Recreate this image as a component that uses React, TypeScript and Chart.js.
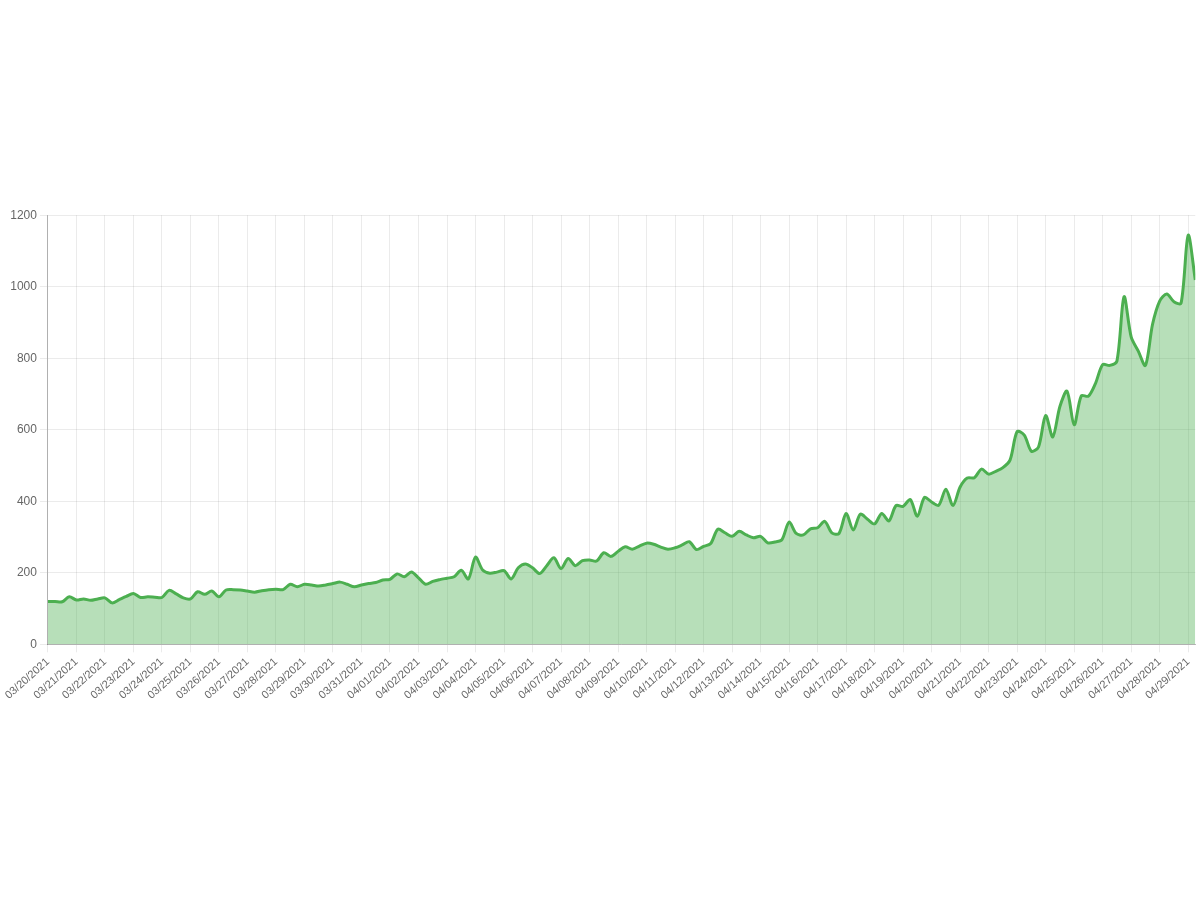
import React, { useEffect, useRef } from "react";
import { Chart, registerables } from "chart.js";

Chart.register(...registerables);

// Tick labels (one per day)
const dateLabels: string[] = [
  "03/20/2021", "03/21/2021", "03/22/2021", "03/23/2021", "03/24/2021", "03/25/2021",
  "03/26/2021", "03/27/2021", "03/28/2021", "03/29/2021", "03/30/2021", "03/31/2021",
  "04/01/2021", "04/02/2021", "04/03/2021", "04/04/2021", "04/05/2021", "04/06/2021",
  "04/07/2021", "04/08/2021", "04/09/2021", "04/10/2021", "04/11/2021", "04/12/2021",
  "04/13/2021", "04/14/2021", "04/15/2021", "04/16/2021", "04/17/2021", "04/18/2021",
  "04/19/2021", "04/20/2021", "04/21/2021", "04/22/2021", "04/23/2021", "04/24/2021",
  "04/25/2021", "04/26/2021", "04/27/2021", "04/28/2021", "04/29/2021",
];

// Sampling interval of the series, in hours
const sampleHours = 6;

// Series values, one every 6 hours starting 03/20/2021
const values: number[] = [
  // 03/20 - 03/29
  120, 120, 119, 133, 124, 127, 123, 127, 130, 116,
  125, 134, 142, 131, 133, 132, 131, 151, 141, 130,
  127, 147, 140, 149, 133, 152, 153, 152, 149, 146,
  150, 153, 154, 153, 168, 161, 168, 166, 163, 166,
  // 03/30 - 04/08
  170, 174, 168, 161, 166, 170, 173, 180, 182, 197,
  189, 202, 186, 168, 176, 181, 185, 189, 207, 183,
  244, 208, 199, 202, 206, 183, 214, 225, 214, 198,
  220, 242, 212, 240, 220, 234, 236, 233, 256, 246,
  // 04/09 - 04/18
  260, 273, 266, 275, 283, 280, 272, 266, 270, 278,
  287, 265, 274, 282, 322, 312, 302, 316, 306, 298,
  302, 284, 286, 293, 342, 310, 306, 323, 326, 344,
  312, 310, 366, 320, 364, 350, 337, 366, 345, 388,
  // 04/19 - 04/29
  386, 405, 358, 411, 398, 389, 434, 388, 440, 465,
  466, 490, 476, 484, 494, 515, 595, 585, 540, 552,
  640, 580, 665, 708, 614, 695, 694, 730, 782, 780,
  792, 972, 860, 820, 780, 895, 960, 980, 958, 954,
  1144, 1019,
];

// Y axis range
const yMin = 0;
const yMax = 1200;
const yStep = 200;

export default function App() {
  const canvasRef = useRef<HTMLCanvasElement | null>(null);

  useEffect(() => {
    if (!canvasRef.current) return;
    const points = values.map((v, i) => ({ x: (i * sampleHours) / 24, y: v }));
    const lastX = ((values.length - 1) * sampleHours) / 24;
    const font = { family: "'Liberation Sans', Arial, Helvetica, sans-serif" };
    const chart = new Chart(canvasRef.current, {
      type: "line",
      data: {
        datasets: [
          {
            data: points,
            borderColor: "rgb(76, 175, 80)",
            backgroundColor: "rgba(76, 175, 80, 0.4)",
            borderWidth: 3,
            fill: "origin",
            pointRadius: 0,
            tension: 0.3,
          },
        ],
      },
      options: {
        animation: false,
        responsive: true,
        maintainAspectRatio: false,
        plugins: { legend: { display: false }, tooltip: { enabled: false } },
        layout: { padding: { left: 0, right: 1, top: 0, bottom: 0 } },
        scales: {
          x: {
            type: "linear",
            min: 0,
            max: lastX,
            grid: { color: "rgba(0,0,0,0.08)" },
            border: { color: "rgba(0,0,0,0.25)" },
            ticks: {
              stepSize: 1,
              includeBounds: false,
              autoSkip: false,
              minRotation: 42,
              maxRotation: 42,
              color: "#666",
              font: { ...font, size: 11 },
              callback: (v: any) => {
                const n = Number(v);
                return Number.isInteger(n) && dateLabels[n] ? dateLabels[n] : "";
              },
            },
          },
          y: {
            min: yMin,
            max: yMax,
            grid: { color: "rgba(0,0,0,0.08)" },
            border: { color: "rgba(0,0,0,0.25)" },
            ticks: {
              stepSize: yStep,
              color: "#666",
              font: { ...font, size: 12 },
              callback: (v: any) => String(v),
            },
          },
        },
      },
    });
    return () => chart.destroy();
  }, []);

  return (
    <div
      style={{
        position: "absolute",
        left: 4,
        top: 205,
        width: 1196,
        height: 500,
        background: "#fff",
      }}
    >
      <canvas ref={canvasRef} />
    </div>
  );
}
